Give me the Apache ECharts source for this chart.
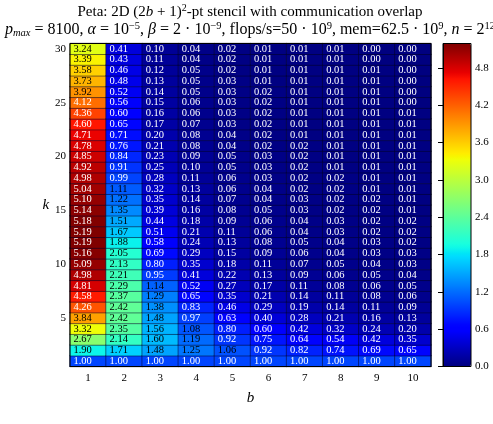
<!DOCTYPE html>
<html><head><meta charset="utf-8">
<script src="https://cdn.jsdelivr.net/npm/echarts@6/dist/echarts.min.js"></script>
<style>html,body{margin:0;padding:0;background:#fff}#c{width:493px;height:424px}</style>
</head><body><div id="c"></div>
<script>
// categories
const bLabels = ['1','2','3','4','5','6','7','8','9','10'];
const kLabels = Array.from({length:30},(_,i)=>String(i+1));
// values per column b, listed for k = 1..30
const b1 = [1.00,1.90,2.67,3.32,3.84,4.26,4.58,4.81,4.98,5.09,5.16,5.19,5.19,5.18,5.14,5.10,5.04,4.98,4.92,4.85,4.78,4.71,4.60,4.36,4.12,3.92,3.73,3.58,3.39,3.24];
const b2 = [1.00,1.71,2.14,2.35,2.42,2.42,2.37,2.29,2.21,2.13,2.05,1.88,1.67,1.51,1.35,1.22,1.11,0.99,0.91,0.84,0.76,0.71,0.65,0.60,0.56,0.52,0.48,0.46,0.43,0.41];
const b3 = [1.00,1.48,1.60,1.56,1.48,1.38,1.29,1.14,0.95,0.80,0.69,0.58,0.51,0.44,0.39,0.35,0.32,0.28,0.25,0.23,0.21,0.20,0.17,0.16,0.15,0.14,0.13,0.12,0.11,0.10];
const b4 = [1.00,1.25,1.19,1.08,0.97,0.83,0.65,0.52,0.41,0.35,0.29,0.24,0.21,0.18,0.16,0.14,0.13,0.11,0.10,0.09,0.08,0.08,0.07,0.06,0.06,0.05,0.05,0.05,0.04,0.04];
const b5 = [1.00,1.06,0.92,0.80,0.63,0.46,0.35,0.27,0.22,0.18,0.15,0.13,0.11,0.09,0.08,0.07,0.06,0.06,0.05,0.05,0.04,0.04,0.03,0.03,0.03,0.03,0.03,0.02,0.02,0.02];
const b6 = [1.00,0.92,0.75,0.60,0.40,0.29,0.21,0.17,0.13,0.11,0.09,0.08,0.06,0.06,0.05,0.04,0.04,0.03,0.03,0.03,0.02,0.02,0.02,0.02,0.02,0.02,0.01,0.01,0.01,0.01];
const b7 = [1.00,0.82,0.64,0.42,0.28,0.19,0.14,0.11,0.09,0.07,0.06,0.05,0.04,0.04,0.03,0.03,0.02,0.02,0.02,0.02,0.02,0.01,0.01,0.01,0.01,0.01,0.01,0.01,0.01,0.01];
const b8 = [1.00,0.74,0.54,0.32,0.21,0.14,0.11,0.08,0.06,0.05,0.04,0.04,0.03,0.03,0.02,0.02,0.02,0.02,0.01,0.01,0.01,0.01,0.01,0.01,0.01,0.01,0.01,0.01,0.01,0.01];
const b9 = [1.00,0.69,0.42,0.24,0.16,0.11,0.08,0.06,0.05,0.04,0.03,0.03,0.02,0.02,0.02,0.02,0.01,0.01,0.01,0.01,0.01,0.01,0.01,0.01,0.01,0.01,0.01,0.01,0.00,0.00];
const b10 = [1.00,0.65,0.35,0.20,0.13,0.09,0.06,0.05,0.04,0.03,0.03,0.02,0.02,0.02,0.01,0.01,0.01,0.01,0.01,0.01,0.01,0.01,0.01,0.01,0.00,0.00,0.00,0.00,0.00,0.00];
const columns = [b1,b2,b3,b4,b5,b6,b7,b8,b9,b10];
const colorbarTicks = [0.0,0.6,1.2,1.8,2.4,3.0,3.6,4.2,4.8];
const vMin = 0, vMax = 5.19;

// matplotlib jet colormap
const jetSeg = {
  r:[[0,0],[0.35,0],[0.66,1],[0.89,1],[1,0.5]],
  g:[[0,0],[0.125,0],[0.375,1],[0.64,1],[0.91,0],[1,0]],
  b:[[0,0.5],[0.11,1],[0.34,1],[0.65,0],[1,0]]
};
function seg(s,t){for(let i=1;i<s.length;i++){if(t<=s[i][0]){const a=s[i-1],b=s[i];return a[1]+(b[1]-a[1])*(t-a[0])/(b[0]-a[0]);}}return s[s.length-1][1];}
function jet(t){const r=Math.round(255*seg(jetSeg.r,t)),g=Math.round(255*seg(jetSeg.g,t)),b=Math.round(255*seg(jetSeg.b,t));return 'rgb('+r+','+g+','+b+')';}
const jetColors=[];for(let i=0;i<=100;i++)jetColors.push(jet(i/100));

const data=[];
columns.forEach((col,i)=>col.forEach((v,j)=>{
  data.push({value:[i,j,v],label:{color:(v>1.0&&v<4.0)?'#000':'#fff'}});
}));

const serif='Liberation Serif';
const chart=echarts.init(document.getElementById('c'),null,{renderer:'canvas'});
const T1=15, T2=16;
const sup1={fontSize:10,verticalAlign:'top',fontFamily:serif,lineHeight:18,padding:[0,0,6,0]};
const it1={fontSize:T1,fontStyle:'italic',fontFamily:serif,lineHeight:18};
const nr1={fontSize:T1,fontFamily:serif,lineHeight:18};
const sup2={fontSize:10.5,verticalAlign:'top',fontFamily:serif,lineHeight:18,padding:[0,0,6,0]};
const sub2={fontSize:10.5,fontStyle:'italic',verticalAlign:'bottom',fontFamily:serif,lineHeight:18};
const it2={fontSize:T2,fontStyle:'italic',fontFamily:serif,lineHeight:18};
const nr2={fontSize:T2,fontFamily:serif,lineHeight:18};
chart.setOption({
  animation:false,
  backgroundColor:'#fff',
  graphic:[
    {type:'text',x:250,y:3,z:10,style:{text:'{n|Peta: 2D (2}{i|b}{n| + 1)}{s|2}{n|-pt stencil with communication overlap}',align:'center',fill:'#000',rich:{n:nr1,i:it1,s:sup1}}},
    {type:'text',x:250,y:21,z:10,style:{text:'{i|p}{u|max}{n| = 8100, }{i|α}{n| = 10}{s|−5}{n|, }{i|β}{n| = 2 · 10}{s|−9}{n|, flops/s=50 · 10}{s|9}{n|, mem=62.5 · 10}{s|9}{n|, }{i|n}{n| = 2}{s|12}',align:'center',fill:'#000',rich:{n:nr2,i:it2,s:sup2,u:sub2}}}
  ],
  grid:[
    {left:70,right:62,top:43.5,bottom:57.5,show:true,borderColor:'#000',borderWidth:1,backgroundColor:'transparent',z:5},
    {left:443,width:28,top:43.5,bottom:57.5,show:true,borderColor:'#000',borderWidth:1,backgroundColor:'transparent',z:10}
  ],
  xAxis:[
    {type:'category',data:bLabels,gridIndex:0,name:'b',nameLocation:'middle',nameGap:24,
     nameTextStyle:{fontFamily:serif,fontStyle:'italic',fontSize:15,color:'#000'},
     axisLine:{lineStyle:{color:'#000'}},axisTick:{alignWithLabel:true,inside:true,length:3,lineStyle:{color:'#000'}},
     axisLabel:{fontFamily:serif,fontSize:11,color:'#000',margin:6},splitLine:{show:false}},
    {type:'value',gridIndex:1,show:false,min:0,max:1}
  ],
  yAxis:[
    {type:'category',data:kLabels,gridIndex:0,name:'k',nameLocation:'middle',nameGap:17,nameRotate:0,
     nameTextStyle:{fontFamily:serif,fontStyle:'italic',fontSize:15,color:'#000'},
     axisLine:{lineStyle:{color:'#000'}},
     axisTick:{alignWithLabel:true,inside:true,length:3,interval:(i,v)=>(+v)%5===0,lineStyle:{color:'#000'}},
     axisLabel:{fontFamily:serif,fontSize:11,color:'#000',margin:4,interval:(i,v)=>(+v)%5===0},splitLine:{show:false}},
    {type:'value',gridIndex:1,min:vMin,max:vMax,interval:0.6,position:'right',z:10,
     axisLine:{show:true,lineStyle:{color:'#000'}},
     axisTick:{show:true,inside:true,length:5,lineStyle:{color:'#000'}},
     axisLabel:{fontFamily:serif,fontSize:11,color:'#000',margin:4,showMaxLabel:false,
       formatter:v=>colorbarTicks.some(t=>Math.abs(t-v)<1e-6)?v.toFixed(1):''},
     splitLine:{show:false}}
  ],
  visualMap:{type:'continuous',seriesIndex:0,min:vMin,max:vMax,calculable:false,show:true,
    left:443,top:43.5,itemWidth:28,itemHeight:323,padding:0,text:null,showLabel:false,
    inRange:{color:jetColors},z:4},
  series:[
    {type:'heatmap',xAxisIndex:0,yAxisIndex:0,data:data,
     itemStyle:{borderColor:'rgba(0,0,40,0.85)',borderWidth:0.6},
     label:{show:true,position:'insideLeft',distance:4,fontFamily:serif,fontSize:10.5,
       formatter:p=>p.value[2].toFixed(2)},
     emphasis:{disabled:true}},
    {type:'scatter',xAxisIndex:1,yAxisIndex:1,data:[],silent:true}
  ]
});
</script></body></html>
